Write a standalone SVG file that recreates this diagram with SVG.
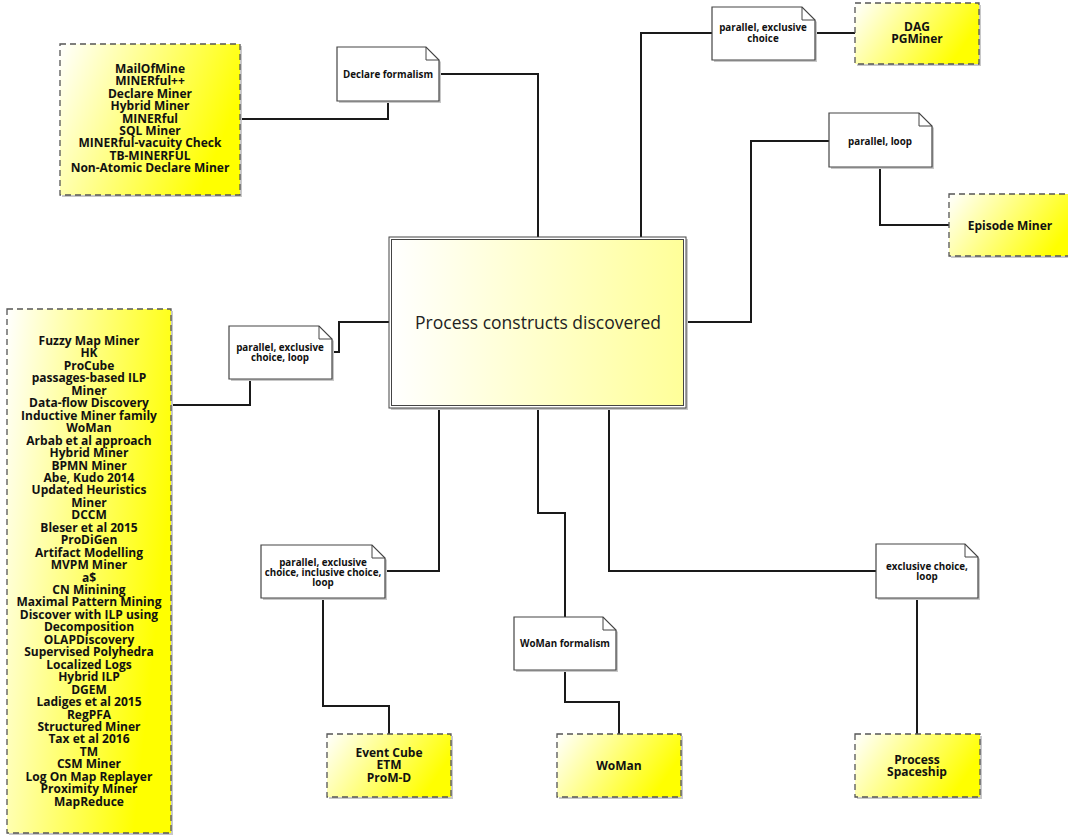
<svg xmlns="http://www.w3.org/2000/svg" width="1068" height="835" viewBox="0 0 1068 835">
<defs>
<linearGradient id="yg" x1="0" y1="0" x2="1" y2="0.35">
<stop offset="0" stop-color="#ffffff"/>
<stop offset="1" stop-color="#ffff00"/>
</linearGradient>
<linearGradient id="cg" x1="0" y1="0" x2="1" y2="0">
<stop offset="0" stop-color="#ffffff"/>
<stop offset="1" stop-color="#ffff99"/>
</linearGradient>
</defs>
<style>
.bg{fill:#ffffff}
.sh{fill:#c8c8c8}
.yb{fill:url(#yg);stroke:#555555;stroke-width:1.3;stroke-dasharray:6,4}
.note{fill:#ffffff;stroke:#444444;stroke-width:1.2}
.fold{fill:none;stroke:#444444;stroke-width:1}
.bt{font-family:"Open Sans","DejaVu Sans",sans-serif;font-weight:bold;font-size:12px;fill:#111111;text-anchor:middle}
.nt{font-family:"Open Sans","DejaVu Sans",sans-serif;font-weight:bold;font-size:9.8px;fill:#111111;text-anchor:middle}
.ct{font-family:"Open Sans","DejaVu Sans",sans-serif;font-size:17.5px;fill:#222222;text-anchor:middle}
.cn{fill:none;stroke:#1a1a1a;stroke-width:2}
</style>
<rect class="bg" x="0" y="0" width="1068" height="835"/>

<g id="connectors">
<polyline class="cn" points="240,119 388,119 388,101"/>
<polyline class="cn" points="439,74 538,74 538,237"/>
<polyline class="cn" points="712,33 641,33 641,237"/>
<polyline class="cn" points="815,33 855,33"/>
<polyline class="cn" points="829,141 751,141 751,322 686,322"/>
<polyline class="cn" points="880,167 880,225 949,225"/>
<polyline class="cn" points="332,352 339,352 339,322 389,322"/>
<polyline class="cn" points="171,405 250,405 250,379"/>
<polyline class="cn" points="385,571 439,571 439,408"/>
<polyline class="cn" points="323,598 323,706 389,706 389,734"/>
<polyline class="cn" points="538,408 538,513 565,513 565,617"/>
<polyline class="cn" points="565,670 565,702 619,702 619,734"/>
<polyline class="cn" points="609,408 609,571 876,571"/>
<polyline class="cn" points="917,598 917,734"/>
</g>

<g id="central">
<rect class="sh" x="391" y="239" width="297" height="171"/>
<rect x="389" y="237" width="297" height="171" fill="#ffffff" stroke="#444444" stroke-width="1"/>
<rect x="391.5" y="239.5" width="292" height="166" fill="url(#cg)" stroke="#444444" stroke-width="1"/>
<text class="ct" x="538" y="329">Process constructs discovered</text>
</g>

<g id="declare-list">
<rect class="sh" x="62" y="46" width="180" height="151"/>
<rect class="yb" x="60" y="44" width="180" height="151"/>
<text class="bt" y="73"><tspan x="150">MailOfMine</tspan><tspan x="150" dy="12.4">MINERful++</tspan><tspan x="150" dy="12.4">Declare Miner</tspan><tspan x="150" dy="12.4">Hybrid Miner</tspan><tspan x="150" dy="12.4">MINERful</tspan><tspan x="150" dy="12.4">SQL Miner</tspan><tspan x="150" dy="12.4">MINERful-vacuity Check</tspan><tspan x="150" dy="12.4">TB-MINERFUL</tspan><tspan x="150" dy="12.4">Non-Atomic Declare Miner</tspan></text>
</g>

<g id="note-declare">
<path class="sh" d="M339,49 H428 L441,62 V103 H339 Z"/>
<path class="note" d="M337,47 H426 L439,60 V101 H337 Z"/>
<path class="fold" d="M426,47 V60 H439"/>
<text class="nt" x="388" y="77.5">Declare formalism</text>
</g>

<g id="note-dag">
<path class="sh" d="M714,9 H804 L817,22 V62 H714 Z"/>
<path class="note" d="M712,7 H802 L815,20 V60 H712 Z"/>
<path class="fold" d="M802,7 V20 H815"/>
<text class="nt" y="31"><tspan x="763">parallel, exclusive</tspan><tspan x="763" dy="10.5">choice</tspan></text>
</g>

<g id="dag">
<rect class="sh" x="857" y="5" width="124" height="61"/>
<rect class="yb" x="855" y="3" width="124" height="61"/>
<text class="bt" y="31"><tspan x="917">DAG</tspan><tspan x="917" dy="12.4">PGMiner</tspan></text>
</g>

<g id="note-parloop">
<path class="sh" d="M831,115 H921 L934,128 V169 H831 Z"/>
<path class="note" d="M829,113 H919 L932,126 V167 H829 Z"/>
<path class="fold" d="M919,113 V126 H932"/>
<text class="nt" x="880" y="144.5">parallel, loop</text>
</g>

<g id="episode">
<rect class="sh" x="951" y="196" width="130" height="62"/>
<rect class="yb" x="949" y="194" width="130" height="62"/>
<text class="bt" x="1010" y="229.5">Episode Miner</text>
</g>

<g id="note-left">
<path class="sh" d="M231,328 H321 L334,341 V381 H231 Z"/>
<path class="note" d="M229,326 H319 L332,339 V379 H229 Z"/>
<path class="fold" d="M319,326 V339 H332"/>
<text class="nt" y="350.5"><tspan x="280">parallel, exclusive</tspan><tspan x="280" dy="10.5">choice, loop</tspan></text>
</g>

<g id="left-list">
<rect class="sh" x="9" y="311" width="164" height="524"/>
<rect class="yb" x="7" y="309" width="164" height="524"/>
<text class="bt" y="345"><tspan x="89">Fuzzy Map Miner</tspan><tspan x="89" dy="12.45">HK</tspan><tspan x="89" dy="12.45">ProCube</tspan><tspan x="89" dy="12.45">passages-based ILP</tspan><tspan x="89" dy="12.45">Miner</tspan><tspan x="89" dy="12.45">Data-flow Discovery</tspan><tspan x="89" dy="12.45">Inductive Miner family</tspan><tspan x="89" dy="12.45">WoMan</tspan><tspan x="89" dy="12.45">Arbab et al approach</tspan><tspan x="89" dy="12.45">Hybrid Miner</tspan><tspan x="89" dy="12.45">BPMN Miner</tspan><tspan x="89" dy="12.45">Abe, Kudo 2014</tspan><tspan x="89" dy="12.45">Updated Heuristics</tspan><tspan x="89" dy="12.45">Miner</tspan><tspan x="89" dy="12.45">DCCM</tspan><tspan x="89" dy="12.45">Bleser et al 2015</tspan><tspan x="89" dy="12.45">ProDiGen</tspan><tspan x="89" dy="12.45">Artifact Modelling</tspan><tspan x="89" dy="12.45">MVPM Miner</tspan><tspan x="89" dy="12.45">a$</tspan><tspan x="89" dy="12.45">CN Minining</tspan><tspan x="89" dy="12.45">Maximal Pattern Mining</tspan><tspan x="89" dy="12.45">Discover with ILP using</tspan><tspan x="89" dy="12.45">Decomposition</tspan><tspan x="89" dy="12.45">OLAPDiscovery</tspan><tspan x="89" dy="12.45">Supervised Polyhedra</tspan><tspan x="89" dy="12.45">Localized Logs</tspan><tspan x="89" dy="12.45">Hybrid ILP</tspan><tspan x="89" dy="12.45">DGEM</tspan><tspan x="89" dy="12.45">Ladiges et al 2015</tspan><tspan x="89" dy="12.45">RegPFA</tspan><tspan x="89" dy="12.45">Structured Miner</tspan><tspan x="89" dy="12.45">Tax et al 2016</tspan><tspan x="89" dy="12.45">TM</tspan><tspan x="89" dy="12.45">CSM Miner</tspan><tspan x="89" dy="12.45">Log On Map Replayer</tspan><tspan x="89" dy="12.45">Proximity Miner</tspan><tspan x="89" dy="12.45">MapReduce</tspan></text>
</g>

<g id="note-bottomleft">
<path class="sh" d="M263,547 H374 L387,560 V600 H263 Z"/>
<path class="note" d="M261,545 H372 L385,558 V598 H261 Z"/>
<path class="fold" d="M372,545 V558 H385"/>
<text class="nt" y="565.5"><tspan x="323">parallel, exclusive</tspan><tspan x="323" dy="10">choice, inclusive choice,</tspan><tspan x="323" dy="10">loop</tspan></text>
</g>

<g id="eventcube">
<rect class="sh" x="329" y="736" width="124" height="63"/>
<rect class="yb" x="327" y="734" width="124" height="63"/>
<text class="bt" y="757"><tspan x="389">Event Cube</tspan><tspan x="389" dy="12.4">ETM</tspan><tspan x="389" dy="12.4">ProM-D</tspan></text>
</g>

<g id="note-woman">
<path class="sh" d="M516,619 H605 L618,632 V672 H516 Z"/>
<path class="note" d="M514,617 H603 L616,630 V670 H514 Z"/>
<path class="fold" d="M603,617 V630 H616"/>
<text class="nt" x="565" y="646.5">WoMan formalism</text>
</g>

<g id="woman">
<rect class="sh" x="559" y="736" width="124" height="63"/>
<rect class="yb" x="557" y="734" width="124" height="63"/>
<text class="bt" x="619" y="770">WoMan</text>
</g>

<g id="note-exclusive">
<path class="sh" d="M878,546 H967 L980,559 V600 H878 Z"/>
<path class="note" d="M876,544 H965 L978,557 V598 H876 Z"/>
<path class="fold" d="M965,544 V557 H978"/>
<text class="nt" y="569.5"><tspan x="927">exclusive choice,</tspan><tspan x="927" dy="10">loop</tspan></text>
</g>

<g id="spaceship">
<rect class="sh" x="857" y="736" width="125" height="63"/>
<rect class="yb" x="855" y="734" width="125" height="63"/>
<text class="bt" y="763.5"><tspan x="917">Process</tspan><tspan x="917" dy="12.4">Spaceship</tspan></text>
</g>
</svg>
